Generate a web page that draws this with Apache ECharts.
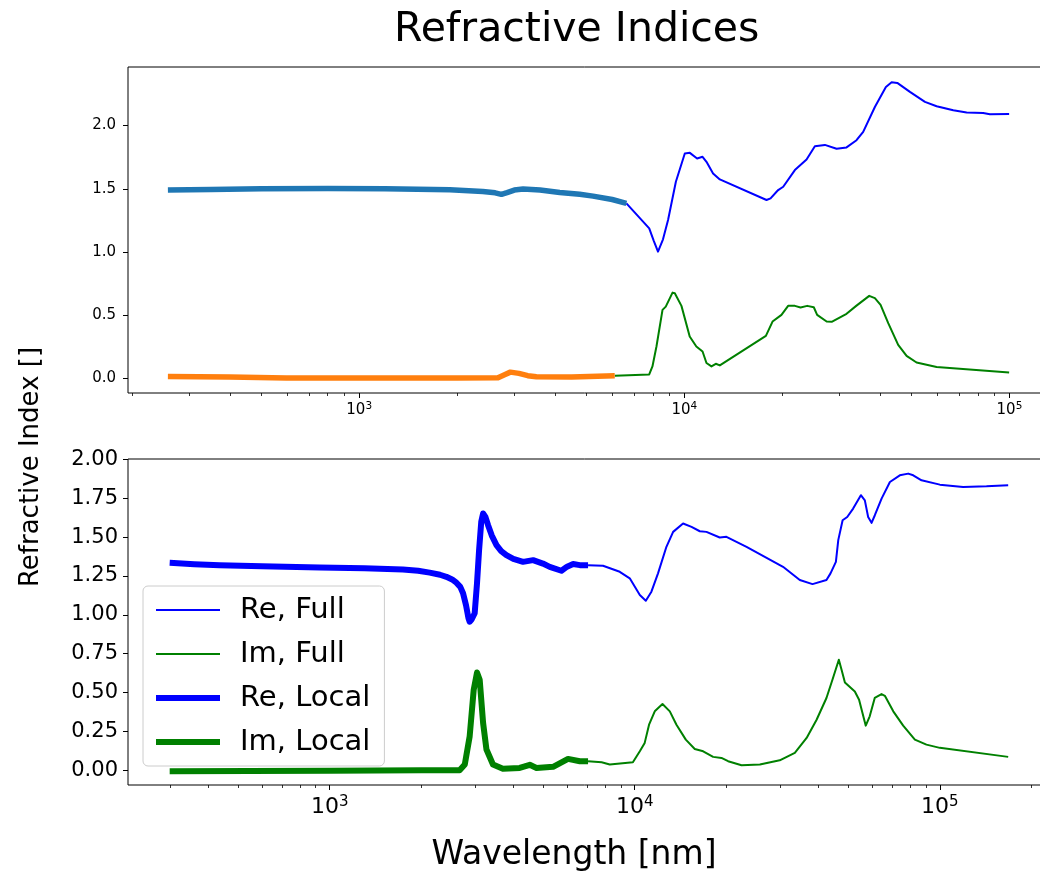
<!DOCTYPE html>
<html>
<head>
<meta charset="utf-8">
<title>Refractive Indices</title>
<script src="https://cdn.jsdelivr.net/npm/echarts@6/dist/echarts.min.js"></script>
<style>
  html, body { margin: 0; padding: 0; background: #fff; }
  #chart { width: 1040px; height: 873px; }
</style>
</head>
<body>
<div id="chart"></div>
<script>
// ---- data (wavelength nm, index) ----
const topReLocal = [[258,1.49],[350,1.495],[500,1.50],[800,1.502],[1200,1.50],[1900,1.492],[2400,1.478],[2620,1.468],[2738,1.456],[2850,1.47],[3000,1.49],[3192,1.498],[3600,1.49],[4140,1.471],[4768,1.456],[5240,1.442],[6000,1.415],[6637,1.385]];
const topImLocal = [[258,0.016],[400,0.012],[597,0.003],[1000,0.003],[2000,0.004],[2673,0.006],[2800,0.03],[2917,0.05],[3100,0.04],[3300,0.022],[3508,0.013],[4500,0.012],[6110,0.021]];
const topReFull = [[6637,1.385],[7800,1.187],[8050,1.09],[8300,1.003],[8600,1.10],[8913,1.253],[9420,1.555],[10035,1.779],[10400,1.784],[10950,1.740],[11380,1.753],[11700,1.713],[12260,1.621],[12860,1.574],[17900,1.411],[18420,1.424],[19440,1.490],[20150,1.516],[21880,1.648],[23770,1.732],[25210,1.837],[27060,1.847],[29400,1.816],[31550,1.827],[33860,1.884],[35500,1.950],[38560,2.147],[41690,2.305],[43420,2.342],[45190,2.337],[49430,2.266],[54980,2.187],[59710,2.153],[67180,2.121],[73860,2.103],[83040,2.100],[87070,2.090],[99800,2.092]];
const topImFull = [[6110,0.021],[7800,0.032],[7980,0.095],[8210,0.253],[8570,0.542],[8770,0.568],[9200,0.679],[9350,0.674],[9800,0.574],[10390,0.332],[10890,0.253],[11380,0.213],[11700,0.122],[12120,0.095],[12500,0.116],[12860,0.103],[17820,0.337],[18680,0.450],[19900,0.503],[20860,0.574],[21880,0.574],[22780,0.561],[23880,0.574],[25020,0.563],[25620,0.503],[27400,0.450],[28400,0.448],[31550,0.511],[33860,0.576],[37050,0.653],[38560,0.635],[40150,0.582],[42390,0.437],[45480,0.266],[48270,0.179],[51800,0.126],[59710,0.090],[99800,0.047]];

const btmReLocal = [[299,1.335],[360,1.326],[436,1.319],[600,1.312],[927,1.305],[1300,1.300],[1738,1.292],[1950,1.284],[2127,1.272],[2300,1.258],[2413,1.245],[2520,1.228],[2603,1.207],[2680,1.18],[2737,1.139],[2800,1.06],[2850,0.98],[2877,0.956],[2920,0.97],[2988,1.010],[3040,1.2],[3089,1.417],[3140,1.6],[3184,1.652],[3240,1.63],[3306,1.577],[3400,1.51],[3522,1.449],[3650,1.41],[3796,1.384],[4000,1.36],[4304,1.341],[4643,1.352],[5000,1.33],[5265,1.309],[5750,1.284],[6000,1.31],[6282,1.327],[6607,1.320],[7030,1.320]];
const btmImLocal = [[299,-0.006],[1000,-0.003],[2000,0.0],[2667,0.0],[2773,0.037],[2877,0.218],[2966,0.518],[3041,0.629],[3103,0.582],[3184,0.304],[3266,0.133],[3430,0.037],[3697,0.009],[4197,0.015],[4528,0.035],[4764,0.015],[5400,0.022],[6044,0.073],[6607,0.058],[7030,0.058]];
const btmReFull = [[7030,1.320],[7870,1.316],[8930,1.277],[9630,1.235],[10390,1.128],[10870,1.091],[11340,1.149],[11920,1.267],[12700,1.438],[13360,1.534],[14400,1.588],[15350,1.566],[16340,1.538],[17180,1.534],[18990,1.498],[19980,1.502],[23250,1.438],[30620,1.309],[34750,1.224],[38250,1.198],[42500,1.224],[43820,1.267],[45630,1.341],[46460,1.481],[48010,1.609],[49710,1.630],[51980,1.684],[55100,1.770],[56780,1.737],[58210,1.630],[59730,1.592],[61230,1.641],[64420,1.748],[68600,1.855],[73920,1.898],[78760,1.909],[81790,1.898],[87100,1.866],[100000,1.838],[119200,1.823],[142200,1.827],[167500,1.834]];
const btmImFull = [[7030,0.058],[7790,0.051],[8280,0.037],[9860,0.051],[10390,0.122],[10780,0.176],[11140,0.293],[11630,0.379],[12330,0.426],[13030,0.379],[13700,0.293],[14700,0.197],[15730,0.137],[16760,0.122],[18070,0.086],[19240,0.079],[20230,0.058],[22390,0.032],[25710,0.037],[29870,0.064],[33470,0.112],[36590,0.208],[39450,0.325],[42500,0.465],[44460,0.582],[46660,0.711],[47630,0.646],[48850,0.565],[52650,0.507],[54360,0.454],[57170,0.287],[58900,0.347],[61180,0.465],[64400,0.490],[66040,0.479],[70370,0.379],[75830,0.287],[82830,0.197],[90390,0.165],[100000,0.144],[167500,0.086]];

// ---- tick labels ----
const majorDecades = [3, 4, 5];
const minorTicks = [200,300,400,500,600,700,800,900,2000,3000,4000,5000,6000,7000,8000,9000,20000,30000,40000,50000,60000,70000,80000,90000,200000];
const topYTicks = [0, 0.5, 1, 1.5, 2];
const btmYTicks = [0, 0.25, 0.5, 0.75, 1, 1.25, 1.5, 1.75, 2];
const legendNames = ['Re, Full', 'Im, Full', 'Re, Local', 'Im, Local'];

const FONT = 'DejaVu Sans';
const topX = [194.5, 134240];
const btmX = [218.3, 229650];

const chart = echarts.init(document.getElementById('chart'));

function dataAxis(grid, ext) {
  return {
    type: 'log', logBase: 10, gridIndex: grid, min: ext[0], max: ext[1], position: 'bottom',
    axisLine: { show: false }, axisTick: { show: false }, axisLabel: { show: false }, splitLine: { show: false }
  };
}
function majorAxis(grid, ext, fs, sfs, pad, margin) {
  return {
    type: 'value', gridIndex: grid, position: 'bottom',
    min: Math.log10(ext[0]), max: Math.log10(ext[1]),
    axisLine: { show: false }, splitLine: { show: false },
    axisTick: { show: true, customValues: majorDecades, length: 5, lineStyle: { color: '#000', width: 1 } },
    axisLabel: {
      customValues: majorDecades, margin: margin, color: '#000',
      formatter: v => '{b|10}{s|' + v + '}',
      rich: {
        b: { fontSize: fs, fontFamily: FONT, color: '#000' },
        s: { fontSize: sfs, fontFamily: FONT, color: '#000', padding: [0, 0, pad, 0] }
      }
    }
  };
}
function minorAxis(grid, ext) {
  return {
    type: 'value', gridIndex: grid, position: 'bottom',
    min: Math.log10(ext[0]), max: Math.log10(ext[1]),
    axisLine: { show: false }, splitLine: { show: false }, axisLabel: { show: false },
    axisTick: { show: true, customValues: minorTicks.map(Math.log10), length: 3, lineStyle: { color: '#000', width: 0.8 } }
  };
}
function line(name, data, xi, yi, color, width) {
  return {
    name: name, type: 'line', xAxisIndex: xi, yAxisIndex: yi, data: data,
    symbol: 'none', showSymbol: false, color: color, animation: false, silent: true,
    lineStyle: { color: color, width: width, join: 'round', cap: 'butt' },
    emphasis: { disabled: true }
  };
}

const option = {
  backgroundColor: '#fff',
  animation: false,
  title: {
    text: 'Refractive Indices', left: 389, top: 5,
    textStyle: { fontFamily: FONT, fontSize: 41, fontWeight: 'normal', color: '#000' }
  },
  grid: [
    { left: 128, top: 67, width: 923, height: 326, show: true, borderColor: '#000', borderWidth: 1, backgroundColor: 'transparent', containLabel: false, outerBoundsMode: 'none' },
    { left: 128, top: 459, width: 922, height: 326, show: true, borderColor: '#000', borderWidth: 1, backgroundColor: 'transparent', containLabel: false, outerBoundsMode: 'none' }
  ],
  xAxis: [
    dataAxis(0, topX), majorAxis(0, topX, 15, 10.5, 7, 8), minorAxis(0, topX),
    dataAxis(1, btmX), majorAxis(1, btmX, 22, 15, 10, 10), minorAxis(1, btmX)
  ],
  yAxis: [
    {
      type: 'value', gridIndex: 0, min: -0.115, max: 2.463,
      axisLine: { show: false }, splitLine: { show: false },
      axisTick: { show: true, customValues: topYTicks, length: 5, lineStyle: { color: '#000' } },
      axisLabel: { customValues: topYTicks, formatter: v => v.toFixed(1), fontSize: 15, fontFamily: FONT, color: '#000', margin: 12 }
    },
    {
      type: 'value', gridIndex: 1, min: -0.095, max: 2.003,
      axisLine: { show: false }, splitLine: { show: false },
      axisTick: { show: true, customValues: btmYTicks, length: 5, lineStyle: { color: '#000' } },
      axisLabel: { customValues: btmYTicks, formatter: v => v.toFixed(2), fontSize: 21, fontFamily: FONT, color: '#000', margin: 10 }
    }
  ],
  legend: {
    data: legendNames, orient: 'vertical', left: 143, top: 586,
    itemWidth: 64, itemHeight: 14, itemGap: 10, padding: [7, 14, 7, 10],
    backgroundColor: 'rgba(255,255,255,0.8)', borderColor: '#cccccc', borderWidth: 1, borderRadius: 5,
    selectedMode: false,
    lineStyle: { width: 'inherit' },
    itemStyle: { opacity: 0, borderWidth: 0 },
    textStyle: { fontFamily: FONT, fontSize: 29, color: '#000', lineHeight: 34, padding: [0, 0, 0, 15] }
  },
  graphic: [
    { type: 'text', x: 31, y: 467, rotation: Math.PI / 2, style: { text: 'Refractive Index []', fontFamily: FONT, fontSize: 26, fill: '#000', textAlign: 'center', textVerticalAlign: 'middle' } },
    { type: 'text', x: 574, y: 855, style: { text: 'Wavelength [nm]', fontFamily: FONT, fontSize: 33, fill: '#000', textAlign: 'center', textVerticalAlign: 'middle' } }
  ],
  series: [
    line('top Re, Full', topReFull, 0, 0, '#0000ff', 2),
    line('top Im, Full', topImFull, 0, 0, '#008000', 2),
    line('top Re, Local', topReLocal, 0, 0, '#1f77b4', 5.5),
    line('top Im, Local', topImLocal, 0, 0, '#ff7f0e', 5.5),
    line('Re, Full', btmReFull, 3, 1, '#0000ff', 2),
    line('Im, Full', btmImFull, 3, 1, '#008000', 2),
    line('Re, Local', btmReLocal, 3, 1, '#0000ff', 6),
    line('Im, Local', btmImLocal, 3, 1, '#008000', 6)
  ]
};

chart.setOption(option);
</script>
</body>
</html>
